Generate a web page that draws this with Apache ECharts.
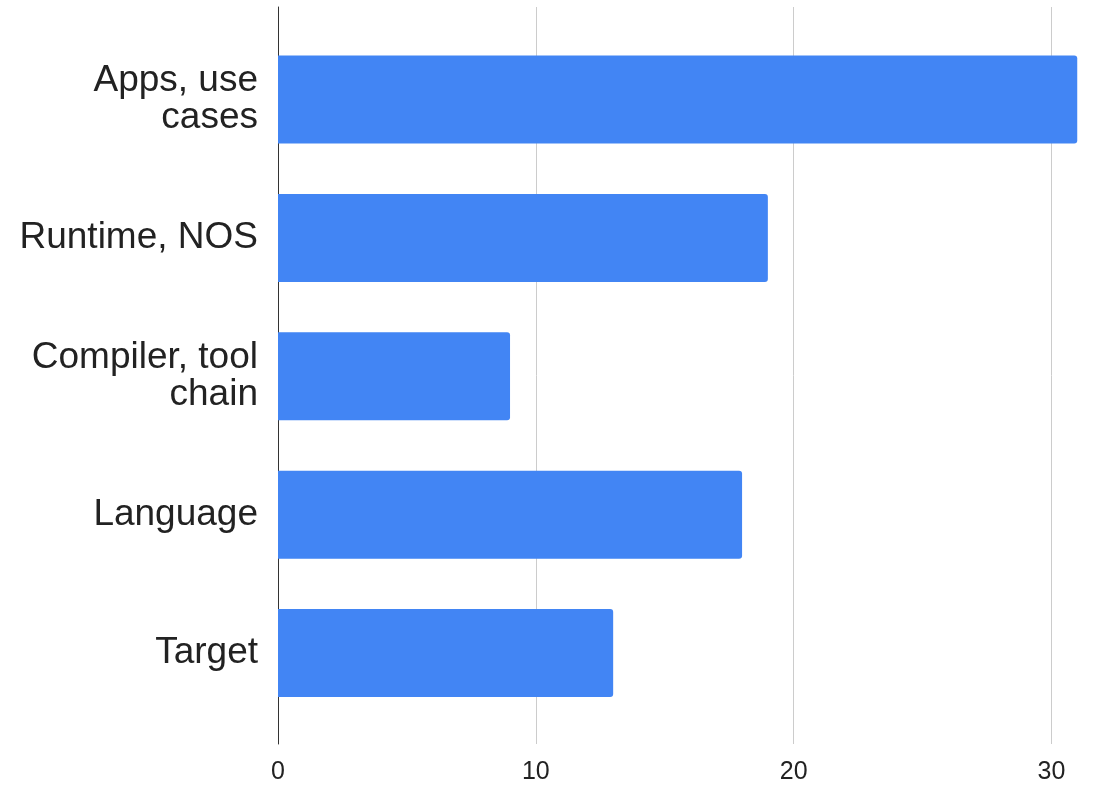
<!DOCTYPE html>
<html>
<head>
<meta charset="utf-8">
<script src="https://cdn.jsdelivr.net/npm/echarts@6/dist/echarts.min.js"></script>
<style>
html,body{margin:0;padding:0;background:#fff;}
#chart{width:1094px;height:785px;}
</style>
</head>
<body>
<div id="chart"></div>
<script>
const categories = ['Apps, use\ncases', 'Runtime, NOS', 'Compiler, tool\nchain', 'Language', 'Target'];
const values = [31, 19, 9, 18, 13];
const xTicks = [0, 10, 20, 30];

const chart = echarts.init(document.getElementById('chart'), null, {renderer: 'canvas'});
const FONT = "'Liberation Sans', Arial, sans-serif";
const XMAX = 31.65;
chart.setOption({
  animation: false,
  backgroundColor: '#ffffff',
  grid: [
    {left: 278, right: 0, top: 7, bottom: 40},
    {left: 278, right: 0, top: 30.3, bottom: 62.7}
  ],
  xAxis: [
    {
      type: 'value', gridIndex: 0, min: 0, max: XMAX, interval: 10,
      axisLine: {show: false}, axisTick: {show: false},
      splitLine: {show: true, showMaxLine: false, lineStyle: {color: '#cccccc', width: 1}},
      axisLabel: {
        fontFamily: FONT, fontSize: 25, color: '#222222', margin: 16,
        showMaxLabel: false,
        formatter: v => (xTicks.indexOf(v) >= 0 ? String(v) : '')
      }
    },
    {
      type: 'value', gridIndex: 1, min: 0, max: XMAX, interval: 10, show: false
    }
  ],
  yAxis: [
    {
      type: 'value', gridIndex: 0, min: 0, max: 1,
      axisLine: {show: true, lineStyle: {color: '#333333', width: 1}},
      axisTick: {show: false}, axisLabel: {show: false}, splitLine: {show: false}
    },
    {
      type: 'category', gridIndex: 1, inverse: true, data: categories,
      axisLine: {show: false}, axisTick: {show: false},
      axisLabel: {fontFamily: FONT, fontSize: 37, lineHeight: 37, color: '#222222', margin: 20, align: 'right', padding: [4, 0, 0, 0]}
    }
  ],
  series: [
    {
      type: 'bar', xAxisIndex: 1, yAxisIndex: 1, data: values,
      barCategoryGap: '36.4%',
      itemStyle: {color: '#4285f4', borderRadius: [0, 3, 3, 0]}
    }
  ]
});
</script>
</body>
</html>
